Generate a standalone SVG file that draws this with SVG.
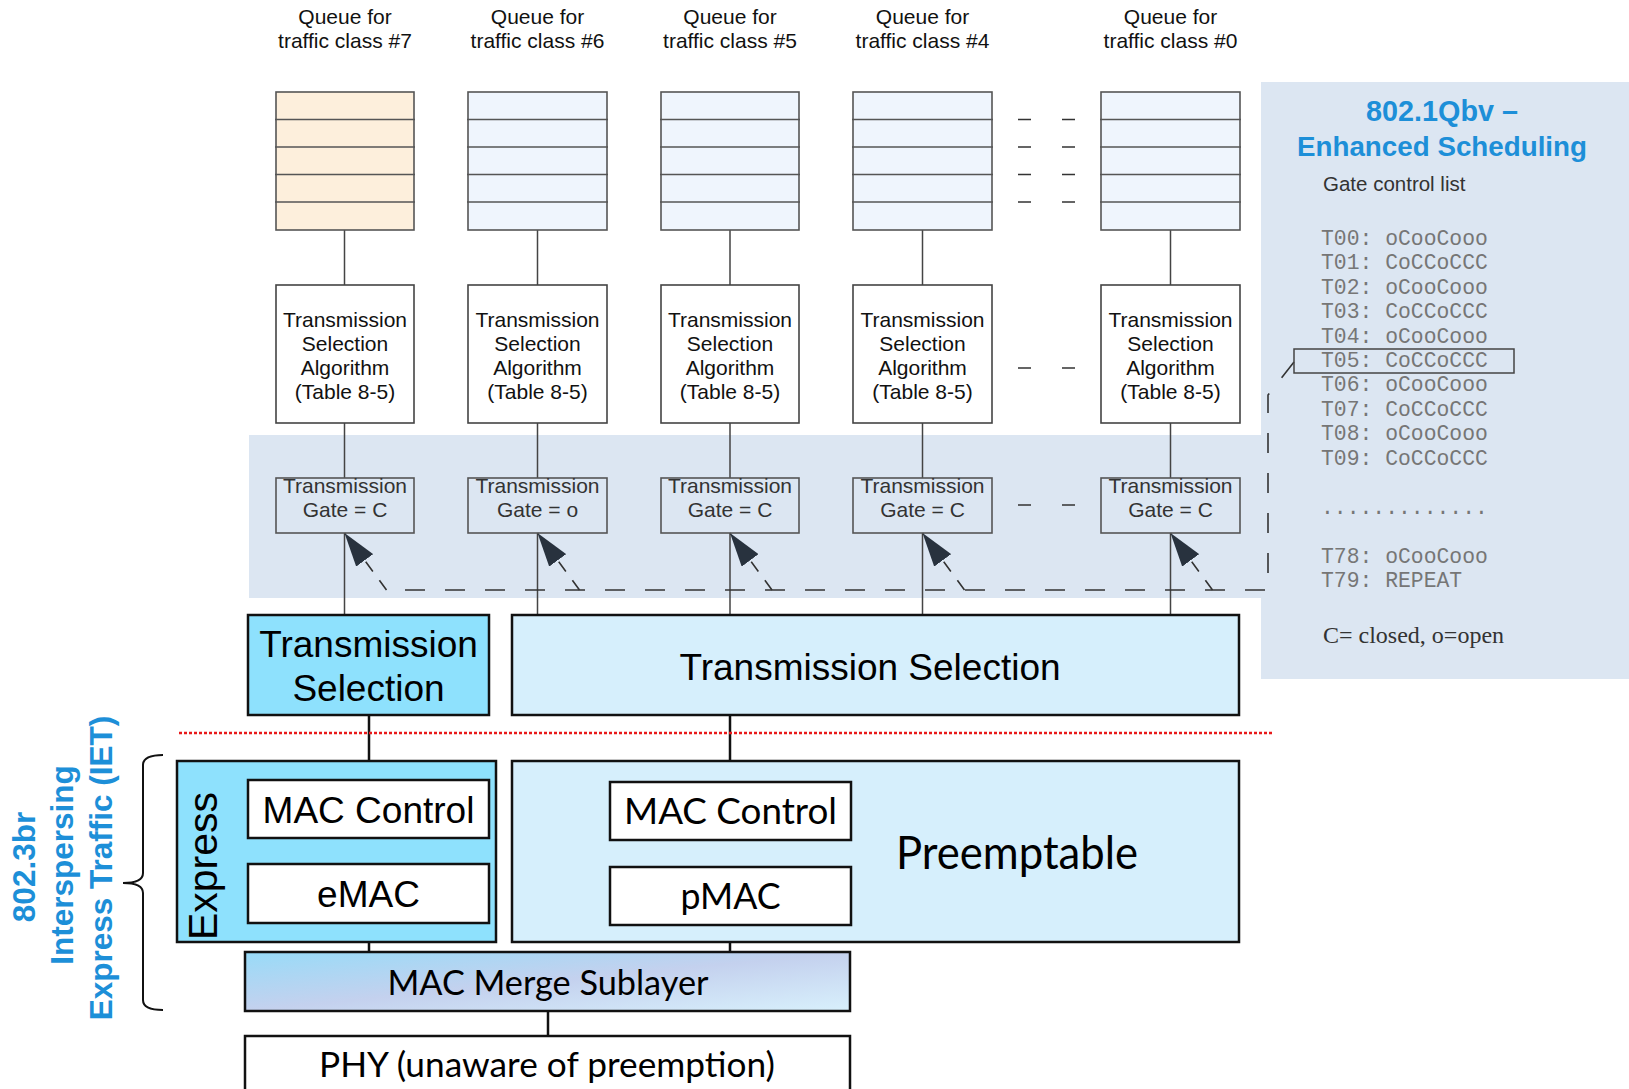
<svg xmlns="http://www.w3.org/2000/svg" width="1629" height="1089" viewBox="0 0 1629 1089">
<defs>
<style>
.lbl{font-family:"Liberation Sans",Arial,sans-serif;font-size:21px;fill:#111;text-anchor:middle}
.gate{font-family:"Liberation Sans",Arial,sans-serif;font-size:21px;fill:#333;text-anchor:middle}
.q7{fill:#FDEFDC;stroke:#555;stroke-width:1.6}
.q{fill:#EFF5FD;stroke:#555;stroke-width:1.6}
.row{stroke:#555;stroke-width:1.4}
.tsa{fill:#fff;stroke:#444;stroke-width:1.6}
.gbox{fill:none;stroke:#555;stroke-width:1.6}
.thin{stroke:#444;stroke-width:1.5;fill:none}
.thick{stroke:#111;stroke-width:2.5;fill:none}
.dots{stroke:#333;stroke-width:1.5}
.dash{stroke:#333;stroke-width:1.6;fill:none;stroke-dasharray:20 20}
.diag{stroke:#333;stroke-width:1.6;fill:none;stroke-dasharray:12 11}
.cyan{fill:#8EE1FD;stroke:#111;stroke-width:2.5}
.lite{fill:#D6EFFC;stroke:#111;stroke-width:2.5}
.wht{fill:#fff;stroke:#111;stroke-width:2.5}
.ar{font-family:"Liberation Sans",Arial,sans-serif;font-size:37px;fill:#000;text-anchor:middle}
.gs{font-family:Lato,"Liberation Sans",sans-serif;fill:#000;text-anchor:middle}
.mono{font-family:"Liberation Mono","Courier New",monospace;font-size:21.4px;fill:#767676}
.blue{font-family:"Liberation Sans",Arial,sans-serif;font-weight:bold;fill:#1D8FD8;text-anchor:middle}
</style>
<marker id="ah" viewBox="0 0 34 21" refX="34" refY="10.5" markerWidth="34" markerHeight="21" orient="auto" markerUnits="userSpaceOnUse">
<path d="M0,0 L34,10.5 L0,21 z" fill="#28323E"/>
</marker>
<linearGradient id="merge" x1="0" y1="0" x2="1" y2="1">
<stop offset="0" stop-color="#98DBF8"/>
<stop offset="0.5" stop-color="#C4D1EE"/>
<stop offset="1" stop-color="#D8F0FC"/>
</linearGradient>
</defs>

<!-- backgrounds -->
<g id="backgrounds">
<rect x="249" y="435" width="1012" height="163" fill="#DCE6F2"/>
<rect x="1261" y="82" width="368" height="597" fill="#DCE6F2"/>
</g>

<!-- connectors -->
<g id="connectors">
<g class="thin">
<path d="M344.5,230V285M344.5,423V478M344.5,533V615"/>
<path d="M537.5,230V285M537.5,423V478M537.5,533V615"/>
<path d="M730,230V285M730,423V478M730,533V615"/>
<path d="M922.5,230V285M922.5,423V478M922.5,533V615"/>
<path d="M1170.5,230V285M1170.5,423V478M1170.5,533V615"/>
</g>
<g class="thick">
<path d="M369,715V780M369,838V864M369,923V952"/>
<path d="M730,715V782M730,840V867M730,925V952"/>
<path d="M548,1011V1036"/>
</g>
<path class="dash" d="M1294,362 L1268,395 L1268,590 L386,590"/>
<path class="diag" d="M386.5,590 L344.5,533" marker-end="url(#ah)"/>
<path class="diag" d="M579.5,590 L537.5,533" marker-end="url(#ah)"/>
<path class="diag" d="M772,590 L730,533" marker-end="url(#ah)"/>
<path class="diag" d="M964.5,590 L922.5,533" marker-end="url(#ah)"/>
<path class="diag" d="M1212.5,590 L1170.5,533" marker-end="url(#ah)"/>
<line x1="179" y1="733" x2="1273" y2="733" stroke="#E8191A" stroke-width="2.5" stroke-dasharray="3 2"/>
<g class="dots">
<path d="M1018,119.5H1031M1062,119.5H1075M1018,147H1031M1062,147H1075M1018,174.5H1031M1062,174.5H1075M1018,202H1031M1062,202H1075"/>
<path d="M1018,368H1031M1062,368H1075"/>
<path d="M1018,505H1031M1062,505H1075"/>
</g>
</g>

<!-- queues -->
<g id="queue7">
<text class="lbl" x="345" y="24">Queue for</text>
<text class="lbl" x="345" y="48">traffic class #7</text>
<rect class="q7" x="276" y="92" width="138" height="138"/>
<path class="row" d="M275,119.5H415M275,147H415M275,174.5H415M275,202H415"/>
</g>
<g id="queue6">
<text class="lbl" x="537.5" y="24">Queue for</text>
<text class="lbl" x="537.5" y="48">traffic class #6</text>
<rect class="q" x="468" y="92" width="139" height="138"/>
<path class="row" d="M467,119.5H608M467,147H608M467,174.5H608M467,202H608"/>
</g>
<g id="queue5">
<text class="lbl" x="730" y="24">Queue for</text>
<text class="lbl" x="730" y="48">traffic class #5</text>
<rect class="q" x="661" y="92" width="138" height="138"/>
<path class="row" d="M660,119.5H800M660,147H800M660,174.5H800M660,202H800"/>
</g>
<g id="queue4">
<text class="lbl" x="922.5" y="24">Queue for</text>
<text class="lbl" x="922.5" y="48">traffic class #4</text>
<rect class="q" x="853" y="92" width="139" height="138"/>
<path class="row" d="M852,119.5H993M852,147H993M852,174.5H993M852,202H993"/>
</g>
<g id="queue0">
<text class="lbl" x="1170.5" y="24">Queue for</text>
<text class="lbl" x="1170.5" y="48">traffic class #0</text>
<rect class="q" x="1101" y="92" width="139" height="138"/>
<path class="row" d="M1100,119.5H1241M1100,147H1241M1100,174.5H1241M1100,202H1241"/>
</g>

<!-- transmission selection algorithms -->
<g id="tsa7">
<rect class="tsa" x="276" y="285" width="138" height="138"/>
<text class="lbl" x="345" y="327">Transmission</text><text class="lbl" x="345" y="351">Selection</text><text class="lbl" x="345" y="375">Algorithm</text><text class="lbl" x="345" y="399">(Table 8-5)</text>
</g>
<g id="tsa6">
<rect class="tsa" x="468" y="285" width="139" height="138"/>
<text class="lbl" x="537.5" y="327">Transmission</text><text class="lbl" x="537.5" y="351">Selection</text><text class="lbl" x="537.5" y="375">Algorithm</text><text class="lbl" x="537.5" y="399">(Table 8-5)</text>
</g>
<g id="tsa5">
<rect class="tsa" x="661" y="285" width="138" height="138"/>
<text class="lbl" x="730" y="327">Transmission</text><text class="lbl" x="730" y="351">Selection</text><text class="lbl" x="730" y="375">Algorithm</text><text class="lbl" x="730" y="399">(Table 8-5)</text>
</g>
<g id="tsa4">
<rect class="tsa" x="853" y="285" width="139" height="138"/>
<text class="lbl" x="922.5" y="327">Transmission</text><text class="lbl" x="922.5" y="351">Selection</text><text class="lbl" x="922.5" y="375">Algorithm</text><text class="lbl" x="922.5" y="399">(Table 8-5)</text>
</g>
<g id="tsa0">
<rect class="tsa" x="1101" y="285" width="139" height="138"/>
<text class="lbl" x="1170.5" y="327">Transmission</text><text class="lbl" x="1170.5" y="351">Selection</text><text class="lbl" x="1170.5" y="375">Algorithm</text><text class="lbl" x="1170.5" y="399">(Table 8-5)</text>
</g>

<!-- gates -->
<g id="gate7"><rect class="gbox" x="276" y="478" width="138" height="55"/><text class="gate" x="345" y="493">Transmission</text><text class="gate" x="345" y="517">Gate = C</text></g>
<g id="gate6"><rect class="gbox" x="468" y="478" width="139" height="55"/><text class="gate" x="537.5" y="493">Transmission</text><text class="gate" x="537.5" y="517">Gate = o</text></g>
<g id="gate5"><rect class="gbox" x="661" y="478" width="138" height="55"/><text class="gate" x="730" y="493">Transmission</text><text class="gate" x="730" y="517">Gate = C</text></g>
<g id="gate4"><rect class="gbox" x="853" y="478" width="139" height="55"/><text class="gate" x="922.5" y="493">Transmission</text><text class="gate" x="922.5" y="517">Gate = C</text></g>
<g id="gate0"><rect class="gbox" x="1101" y="478" width="139" height="55"/><text class="gate" x="1170.5" y="493">Transmission</text><text class="gate" x="1170.5" y="517">Gate = C</text></g>

<!-- right panel: gate control list -->
<g id="gcl-panel">
<text class="blue" x="1442" y="121" font-size="29" textLength="152" lengthAdjust="spacingAndGlyphs">802.1Qbv –</text>
<text class="blue" x="1442" y="156" font-size="28" textLength="290" lengthAdjust="spacingAndGlyphs">Enhanced Scheduling</text>
<text x="1323" y="191" font-family="Liberation Sans, Arial, sans-serif" font-size="20.5" fill="#333">Gate control list</text>
<text class="mono" x="1321" y="245">T00: oCooCooo</text>
<text class="mono" x="1321" y="269.4">T01: CoCCoCCC</text>
<text class="mono" x="1321" y="293.8">T02: oCooCooo</text>
<text class="mono" x="1321" y="318.2">T03: CoCCoCCC</text>
<text class="mono" x="1321" y="342.6">T04: oCooCooo</text>
<rect x="1294" y="349" width="220" height="24" fill="none" stroke="#444" stroke-width="1.5"/>
<text class="mono" x="1321" y="367">T05: CoCCoCCC</text>
<text class="mono" x="1321" y="391.4">T06: oCooCooo</text>
<text class="mono" x="1321" y="415.8">T07: CoCCoCCC</text>
<text class="mono" x="1321" y="440.2">T08: oCooCooo</text>
<text class="mono" x="1321" y="464.6">T09: CoCCoCCC</text>
<text class="mono" x="1321" y="514" fill="#223">.............</text>
<text class="mono" x="1321" y="562.5">T78: oCooCooo</text>
<text class="mono" x="1321" y="587">T79: REPEAT</text>
<text x="1323" y="643" font-family="Liberation Serif, 'Times New Roman', serif" font-size="24" fill="#333">C= closed, o=open</text>
</g>

<!-- transmission selection -->
<g id="ts-express">
<rect class="cyan" x="248" y="615" width="241" height="100"/>
<text class="ar" x="368.5" y="657">Transmission</text>
<text class="ar" x="368.5" y="701">Selection</text>
</g>
<g id="ts-preempt">
<rect class="lite" x="512" y="615" width="727" height="100"/>
<text class="ar" x="870" y="680">Transmission Selection</text>
</g>

<!-- express -->
<g id="express">
<rect class="cyan" x="177" y="761" width="319" height="181"/>
<text transform="translate(217,866) rotate(-90)" font-family="Liberation Sans, Arial, sans-serif" font-size="41" text-anchor="middle" fill="#000">Express</text>
</g>
<g id="mac-control-e">
<rect class="wht" x="248" y="780" width="241" height="58"/>
<text class="ar" x="368.5" y="823">MAC Control</text>
</g>
<g id="emac">
<rect class="wht" x="248" y="864" width="241" height="59"/>
<text class="ar" x="368.5" y="907">eMAC</text>
</g>

<!-- preemptable -->
<g id="preemptable">
<rect class="lite" x="512" y="761" width="727" height="181"/>
<text class="gs" x="1017" y="869" font-size="46" textLength="242" lengthAdjust="spacingAndGlyphs">Preemptable</text>
</g>
<g id="mac-control-p">
<rect class="wht" x="610" y="782" width="241" height="58"/>
<text class="gs" x="730.5" y="824" font-size="37" textLength="213" lengthAdjust="spacingAndGlyphs">MAC Control</text>
</g>
<g id="pmac">
<rect class="wht" x="610" y="867" width="241" height="58"/>
<text class="gs" x="730.5" y="909" font-size="37" textLength="100" lengthAdjust="spacingAndGlyphs">pMAC</text>
</g>

<!-- merge + phy -->
<g id="mac-merge">
<rect x="245" y="952" width="605" height="59" fill="url(#merge)" stroke="#111" stroke-width="2.5"/>
<text class="gs" x="548" y="995" font-size="35" textLength="321" lengthAdjust="spacingAndGlyphs">MAC Merge Sublayer</text>
</g>
<g id="phy">
<path d="M245,1089V1036H850V1089" fill="#fff" stroke="#111" stroke-width="2.5"/>
<text class="gs" x="547" y="1077" font-size="35" textLength="456" lengthAdjust="spacingAndGlyphs">PHY (unaware of preemption)</text>
</g>

<!-- IET label and brace -->
<g id="iet">
<path d="M163,755 Q143,755 143,765 V873 Q143,883 123,883 Q143,883 143,893 V1000 Q143,1010 163,1010" fill="none" stroke="#111" stroke-width="2"/>
<text class="blue" transform="translate(35,867) rotate(-90)" font-size="31.5">802.3br</text>
<text class="blue" transform="translate(73,865) rotate(-90)" font-size="31.5">Interspersing</text>
<text class="blue" transform="translate(112,868) rotate(-90)" font-size="31.5">Express Traffic (IET)</text>
</g>
</svg>
